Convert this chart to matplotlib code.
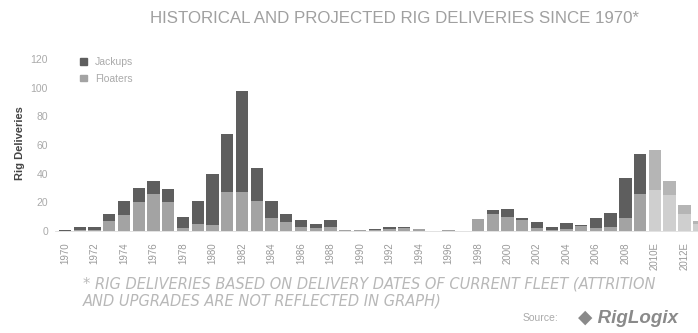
import numpy as np
import matplotlib
matplotlib.use("Agg")
import matplotlib.pyplot as plt

plt.rcParams['font.family'] = ['Liberation Sans', 'DejaVu Sans']

# Deliveries per year
years = list(range(1970, 2014))
jackups = [0.5, 1.5, 2, 5, 10, 10, 9, 9, 8, 16,
           36, 41, 71, 23, 12, 6, 5, 3, 5, 0,
           0, 0.5, 1, 0.6, 0, 0, 0, 0, 0, 3,
           5.6, 1.3, 4.5, 2, 3.8, 0.7, 6.8, 9.3, 28, 27.5,
           28, 10, 6, 2]
floaters = [0, 1, 1, 7, 11, 20, 26, 20, 2, 5,
            4, 27, 27, 21, 9, 6, 3, 2, 3, 0.7,
            1, 1, 1.5, 2, 1.3, 0, 0.5, 0, 8.4, 12,
            10, 8, 2, 1, 1.5, 3.5, 2, 3, 9, 26,
            28.5, 25, 12, 5]
first_projected = 2010

tick_years = list(range(1970, 2013, 2))
tick_labels = [str(y) if y < first_projected else str(y) + "E" for y in tick_years]

fig = plt.figure(figsize=(6.98, 3.33), dpi=100)
ax = fig.add_axes([55 / 698, 102 / 333, 643 / 698, 176 / 333])

x = np.array(years)
proj = x >= first_projected
f_col = np.where(proj, '#cfcfcf', '#a3a3a3')
j_col = np.where(proj, '#b5b5b5', '#5e5e5e')

ax.bar(x, floaters, width=0.84, color=f_col, label='Floaters')
ax.bar(x, jackups, width=0.84, bottom=floaters, color=j_col, label='Jackups')

ax.set_xlim(1969.32, 2012.92)
ax.set_ylim(0, 122.8)
ax.set_yticks(range(0, 121, 20))
ax.set_xticks(tick_years)
ax.set_xticklabels(tick_labels, rotation=90, fontsize=7, color='#999999')
ax.tick_params(axis='y', labelsize=7.5, colors='#aaaaaa', length=0, pad=5)
ax.tick_params(axis='x', length=0, pad=8)

for s in ['top', 'right', 'left']:
    ax.spines[s].set_visible(False)
ax.spines['bottom'].set_color('#dddddd')
ax.spines['bottom'].set_linewidth(0.6)

ax.set_ylabel('Rig Deliveries', fontsize=8, color='#444444', labelpad=4,
              fontweight='bold')

# legend with jackups listed first
handles, labels = ax.get_legend_handles_labels()
leg = ax.legend(handles[::-1], labels[::-1], loc='upper left', bbox_to_anchor=(0.025, 1.04),
                frameon=False, fontsize=7.5, handlelength=0.6, handleheight=0.6,
                labelcolor='#aaaaaa', handletextpad=0.8, labelspacing=0.6)
leg.legend_handles[0].set_color('#5e5e5e')
leg.legend_handles[1].set_color('#a3a3a3')

fig.text(0.565, 0.945, 'HISTORICAL AND PROJECTED RIG DELIVERIES SINCE 1970*',
         ha='center', va='center', fontsize=12.2, color='#a0a0a0')
fig.text(83 / 698, 0.146, '* RIG DELIVERIES BASED ON DELIVERY DATES OF CURRENT FLEET (ATTRITION',
         ha='left', va='center', fontsize=10.5, style='italic', color='#b8b8b8',
         family='DejaVu Sans')
fig.text(83 / 698, 0.096, 'AND UPGRADES ARE NOT REFLECTED IN GRAPH)',
         ha='left', va='center', fontsize=10.5, style='italic', color='#b8b8b8',
         family='DejaVu Sans')
fig.text(0.80, 0.045, 'Source:', ha='right', va='center', fontsize=7.5, color='#aaaaaa')
fig.text(0.828, 0.045, '\u25c6 RigLogix', ha='left', va='center', fontsize=13.5,
         style='italic', fontweight='bold', color='#8a8a8a')

fig.savefig('out.png', dpi=100)
